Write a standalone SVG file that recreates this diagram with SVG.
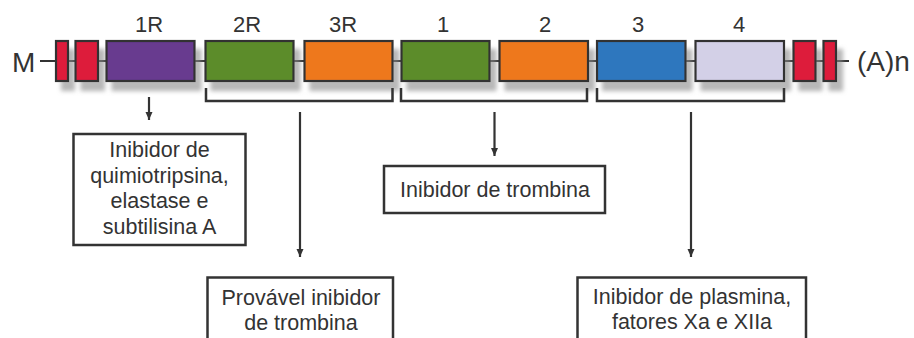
<svg xmlns="http://www.w3.org/2000/svg" width="914" height="338" viewBox="0 0 914 338">
<defs>
<style>
.t{font-family:"Liberation Sans",Arial,sans-serif;fill:#333;}
.lbl{font-size:22px;text-anchor:middle;}
.end{font-size:28px;}
.bx{font-size:21.5px;text-anchor:middle;}
.seg{stroke:#333;stroke-width:2.2;}
.frame{fill:#fff;stroke:#333;stroke-width:2.5;}
.con{fill:none;stroke:#333;stroke-width:2.2;}
.brk{fill:none;stroke:#333;stroke-width:2.5;}
</style>
<filter id="sh" x="-10%" y="-20%" width="130%" height="180%">
<feGaussianBlur in="SourceAlpha" stdDeviation="2"/>
<feOffset dx="6" dy="9" result="b"/>
<feFlood flood-color="#888" flood-opacity="0.6"/>
<feComposite in2="b" operator="in"/>
<feMerge><feMergeNode/><feMergeNode in="SourceGraphic"/></feMerge>
</filter>
<marker id="ah" markerUnits="userSpaceOnUse" markerWidth="8" markerHeight="8" refX="8" refY="4" orient="auto">
<path d="M0,0.5 L8,4 L0,7.5 z" fill="#333"/>
</marker>
</defs>
<rect width="914" height="338" fill="#fff"/>

<g id="backbone">
<line x1="40" y1="61" x2="849" y2="61" stroke="#333" stroke-width="2.2"/>
<text class="t end" x="12" y="72">M</text>
<text class="t end" x="857" y="71">(A)n</text>
</g>

<g filter="url(#sh)">
<g id="cap5a"><rect class="seg" x="56" y="41" width="12" height="40" fill="#DD1D3B"/></g>
<g id="cap5b"><rect class="seg" x="75.5" y="41" width="22.5" height="40" fill="#DD1D3B"/></g>
<g id="d1R"><rect class="seg" x="106.5" y="41" width="88" height="40" fill="#673A8F"/></g>
<g id="d2R"><rect class="seg" x="205.5" y="41" width="88" height="40" fill="#5B8C2B"/></g>
<g id="d3R"><rect class="seg" x="304.5" y="41" width="88" height="40" fill="#EE781F"/></g>
<g id="d1"><rect class="seg" x="401.5" y="41" width="88" height="40" fill="#5B8C2B"/></g>
<g id="d2"><rect class="seg" x="499.5" y="41" width="88.5" height="40" fill="#EE781F"/></g>
<g id="d3"><rect class="seg" x="597" y="41" width="88.5" height="40" fill="#2E77BE"/></g>
<g id="d4"><rect class="seg" x="695.5" y="41" width="88.5" height="40" fill="#D3D0E7"/></g>
<g id="cap3a"><rect class="seg" x="793.5" y="41" width="22" height="40" fill="#DD1D3B"/></g>
<g id="cap3b"><rect class="seg" x="823.5" y="41" width="12.5" height="40" fill="#DD1D3B"/></g>
</g>

<g id="labels">
<text class="t lbl" x="149" y="32">1R</text>
<text class="t lbl" x="247" y="32">2R</text>
<text class="t lbl" x="343" y="32">3R</text>
<text class="t lbl" x="443" y="32">1</text>
<text class="t lbl" x="545" y="32">2</text>
<text class="t lbl" x="638" y="32">3</text>
<text class="t lbl" x="739" y="32">4</text>
</g>

<g id="connectors">
<path class="brk" d="M206,88 V101 H392.5 V88"/>
<path class="brk" d="M401,88 V101 H587 V88"/>
<path class="brk" d="M597,88 V101 H784 V88"/>
<line class="con" x1="149" y1="97" x2="149" y2="120" marker-end="url(#ah)"/>
<line class="con" x1="300" y1="112" x2="300" y2="257" marker-end="url(#ah)"/>
<line class="con" x1="494.5" y1="112" x2="494.5" y2="156" marker-end="url(#ah)"/>
<line class="con" x1="691" y1="112" x2="691" y2="257" marker-end="url(#ah)"/>
</g>

<g id="boxA">
<rect class="frame" x="73.5" y="134" width="172" height="111"/>
<text class="t bx" x="159.5" y="157">Inibidor de</text>
<text class="t bx" x="159.5" y="183">quimiotripsina,</text>
<text class="t bx" x="159.5" y="208">elastase e</text>
<text class="t bx" x="159.5" y="234">subtilisina A</text>
</g>

<g id="boxB">
<rect class="frame" x="207.5" y="277.5" width="185.5" height="80"/>
<text class="t bx" x="301" y="305">Provável inibidor</text>
<text class="t bx" x="301" y="330">de trombina</text>
</g>

<g id="boxC">
<rect class="frame" x="384" y="166" width="221" height="47"/>
<text class="t bx" x="495" y="197">Inibidor de trombina</text>
</g>

<g id="boxD">
<rect class="frame" x="577.5" y="277.5" width="228.5" height="80"/>
<text class="t bx" x="692" y="304">Inibidor de plasmina,</text>
<text class="t bx" x="692" y="329">fatores Xa e XIIa</text>
</g>
</svg>
